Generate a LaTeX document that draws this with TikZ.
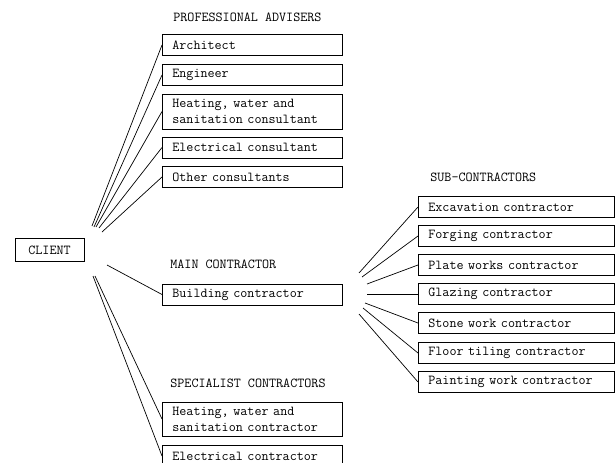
\documentclass[tikz,border=0pt]{standalone}
\begin{document}
\begin{tikzpicture}[x=1pt, y=-1pt, line width=0.7pt,
    font=\ttfamily\fontsize{13.7}{16}\selectfont,
    box/.style={draw, anchor=west, minimum height=21pt, text width=160pt, inner xsep=10pt, align=left},
    subbox/.style={box, text width=176pt},
    head/.style={anchor=west, inner sep=0pt}]
    \clip (0,0) rectangle (616,463);
    %headings
    \node[head] at (173,17) (hadv) {PROFESSIONAL ADVISERS};
    \node[head] at (170,264) (hmain) {MAIN CONTRACTOR};
    \node[head] at (170,383) (hspec) {SPECIALIST CONTRACTORS};
    \node[head] at (430,177) (hsub) {SUB-CONTRACTORS};
    %nodes
    \node[draw, minimum width=69pt, minimum height=23pt] at (49.5,250) (client) {CLIENT};
    \node[box] at (162,45) (arch) {Architect};
    \node[box] at (162,75) (eng) {Engineer};
    \node[box, minimum height=35pt] at (162,111.5) (hcons) {Heating, water and\\sanitation consultant};
    \node[box] at (162,147.5) (econs) {Electrical consultant};
    \node[box] at (162,177) (ocons) {Other consultants};
    \node[box] at (162,294.5) (build) {Building contractor};
    \node[box, minimum height=34pt] at (162,419) (hcont) {Heating, water and\\sanitation contractor};
    \node[box] at (162,456) (econt) {Electrical contractor};
    \node[subbox] at (418,207) (exc) {Excavation contractor};
    \node[subbox] at (418,236) (forg) {Forging contractor};
    \node[subbox] at (418,265) (plate) {Plate works contractor};
    \node[subbox] at (418,294) (glaz) {Glazing contractor};
    \node[subbox] at (418,323) (stone) {Stone work contractor};
    \node[subbox] at (418,353) (floor) {Floor tiling contractor};
    \node[subbox] at (418,382) (paint) {Painting work contractor};
    %fan points
    \coordinate (f1) at (92,226);
    \coordinate (f2) at (94,227);
    \coordinate (f3) at (96,227);
    \coordinate (f4) at (99,228);
    \coordinate (f5) at (102,232);
    \coordinate (f6) at (107,265);
    \coordinate (f7) at (95,276);
    \coordinate (f8) at (93,276);
    \coordinate (s1) at (359,273);
    \coordinate (s2) at (362,277);
    \coordinate (s3) at (367,284);
    \coordinate (s4) at (367,294);
    \coordinate (s5) at (365,303);
    \coordinate (s6) at (363,308);
    \coordinate (s7) at (359,314);
    \path
        (f1) edge (arch.west)
        (f2) edge (eng.west)
        (f3) edge (hcons.west)
        (f4) edge (econs.west)
        (f5) edge (ocons.west)
        (f6) edge (build.west)
        (f7) edge (hcont.west)
        (f8) edge (econt.west)
        (s1) edge (exc.west)
        (s2) edge (forg.west)
        (s3) edge (plate.west)
        (s4) edge (glaz.west)
        (s5) edge (stone.west)
        (s6) edge (floor.west)
        (s7) edge (paint.west);
\end{tikzpicture}
\end{document}
